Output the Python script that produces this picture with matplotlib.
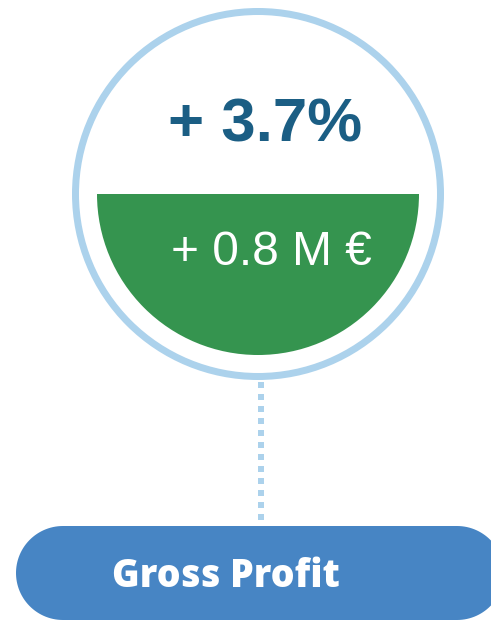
import matplotlib
matplotlib.use("Agg")
import matplotlib.pyplot as plt
import numpy as np
from matplotlib.patches import Circle, Wedge, Polygon

# Data
pct_change = ["+ 3.7%"]
abs_change = ["+ 0.8 M €"]
kpi_label = ["Gross Profit"]

W, H, DPI = 491, 620, 100
fig = plt.figure(figsize=(W / DPI, H / DPI), dpi=DPI)
ax = fig.add_axes([0, 0, 1, 1])
ax.set_xlim(0, W)
ax.set_ylim(H, 0)
ax.set_aspect("equal")
ax.axis("off")

pt = 72 / DPI  # pixels -> points

cx, cy = 258, 194
# outer ring
ax.add_patch(Circle((cx, cy), 182.5, fill=False, edgecolor="#acd2ec", linewidth=7 * pt))
# green half disk (lower half)
ax.add_patch(Wedge((cx, cy), 161, 0, 180, facecolor="#35944f", edgecolor="none"))

# dotted connector
ax.plot([261, 261], [382, 526], color="#acd2ec", linewidth=6 * pt,
        linestyle=(0, (1, 1)), solid_capstyle="butt", dash_capstyle="butt")

# pill (stadium shape)
x0, x1, y0, y1 = 16, 504, 526, 620
r = (y1 - y0) / 2
ym = (y0 + y1) / 2
t = np.linspace(np.pi / 2, 3 * np.pi / 2, 60)
left = np.column_stack([x0 + r + r * np.cos(t), ym - r * np.sin(t)])
t2 = np.linspace(-np.pi / 2, np.pi / 2, 60)
right = np.column_stack([x1 - r + r * np.cos(t2), ym - r * np.sin(t2)])
pts = np.vstack([left, right])
ax.add_patch(Polygon(pts, closed=True, facecolor="#4785c4", edgecolor="none"))

ax.text(265, 141, pct_change[0], ha="center", va="baseline",
        fontsize=44.5, fontweight="bold", family="Liberation Sans", color="#1b5e84")
ax.text(271, 265, abs_change[0], ha="center", va="baseline",
        fontsize=34.5, family="Liberation Sans", color="white")
ax.text(226, 587, kpi_label[0], ha="center", va="baseline",
        fontsize=27, fontweight="heavy", family="Open Sans", color="white")

fig.savefig("out.png", dpi=DPI)
